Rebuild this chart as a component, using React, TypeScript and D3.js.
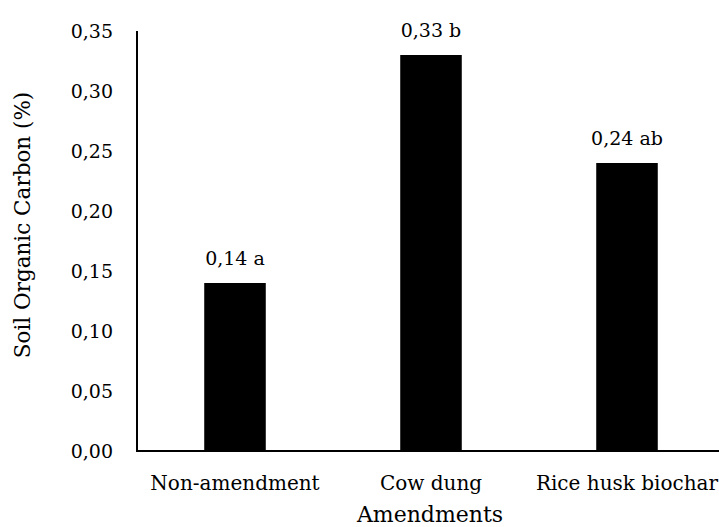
import React from "react";
import * as d3 from "d3";

const categories = ["Non-amendment", "Cow dung", "Rice husk biochar"];
const values = [0.14, 0.33, 0.24];
const letters = ["a", "b", "ab"];
const yTicks = [0, 0.05, 0.1, 0.15, 0.2, 0.25, 0.3, 0.35];

const W = 719;
const H = 527;
const FONT = "'DejaVu Serif', serif";

export default function App() {
  const x = d3
    .scaleBand<string>()
    .domain(categories)
    .range([137, 725])
    .paddingInner(0.686)
    .paddingOuter(0.343);
  const y = d3.scaleLinear().domain([0, 0.35]).range([451, 31]);
  const fmt = (v: number) => v.toFixed(2).replace(".", ",");

  return (
    <svg
      width={W}
      height={H}
      style={{ position: "absolute", left: 0, top: 0, background: "#fff" }}
      fontFamily={FONT}
    >
      {categories.map((c, i) => (
        <g key={c}>
          <rect
            x={x(c)}
            y={y(values[i])}
            width={x.bandwidth()}
            height={y(0) - y(values[i])}
            fill="#000"
          />
          <text
            x={(x(c) as number) + x.bandwidth() / 2}
            y={y(values[i]) - 18}
            textAnchor="middle"
            fontSize={19}
            fill="#000"
          >
            {fmt(values[i]) + " " + letters[i]}
          </text>
          <text
            x={(x(c) as number) + x.bandwidth() / 2}
            y={490}
            textAnchor="middle"
            fontSize={20}
            fill="#000"
          >
            {c}
          </text>
        </g>
      ))}
      {yTicks.map((t) => (
        <text
          key={t}
          x={113}
          y={y(t)}
          dy="0.35em"
          textAnchor="end"
          fontSize={19}
          fill="#000"
        >
          {fmt(t)}
        </text>
      ))}
      <line x1={137} x2={137} y1={y(0.35)} y2={y(0) + 1} stroke="#000" strokeWidth={2} />
      <line x1={136} x2={719} y1={y(0)} y2={y(0)} stroke="#000" strokeWidth={2} />
      <text
        transform={`translate(30,225) rotate(-90)`}
        textAnchor="middle"
        fontSize={21.5}
        fill="#000"
      >
        Soil Organic Carbon (%)
      </text>
      <text x={430} y={522} textAnchor="middle" fontSize={22} fill="#000">
        Amendments
      </text>
    </svg>
  );
}
